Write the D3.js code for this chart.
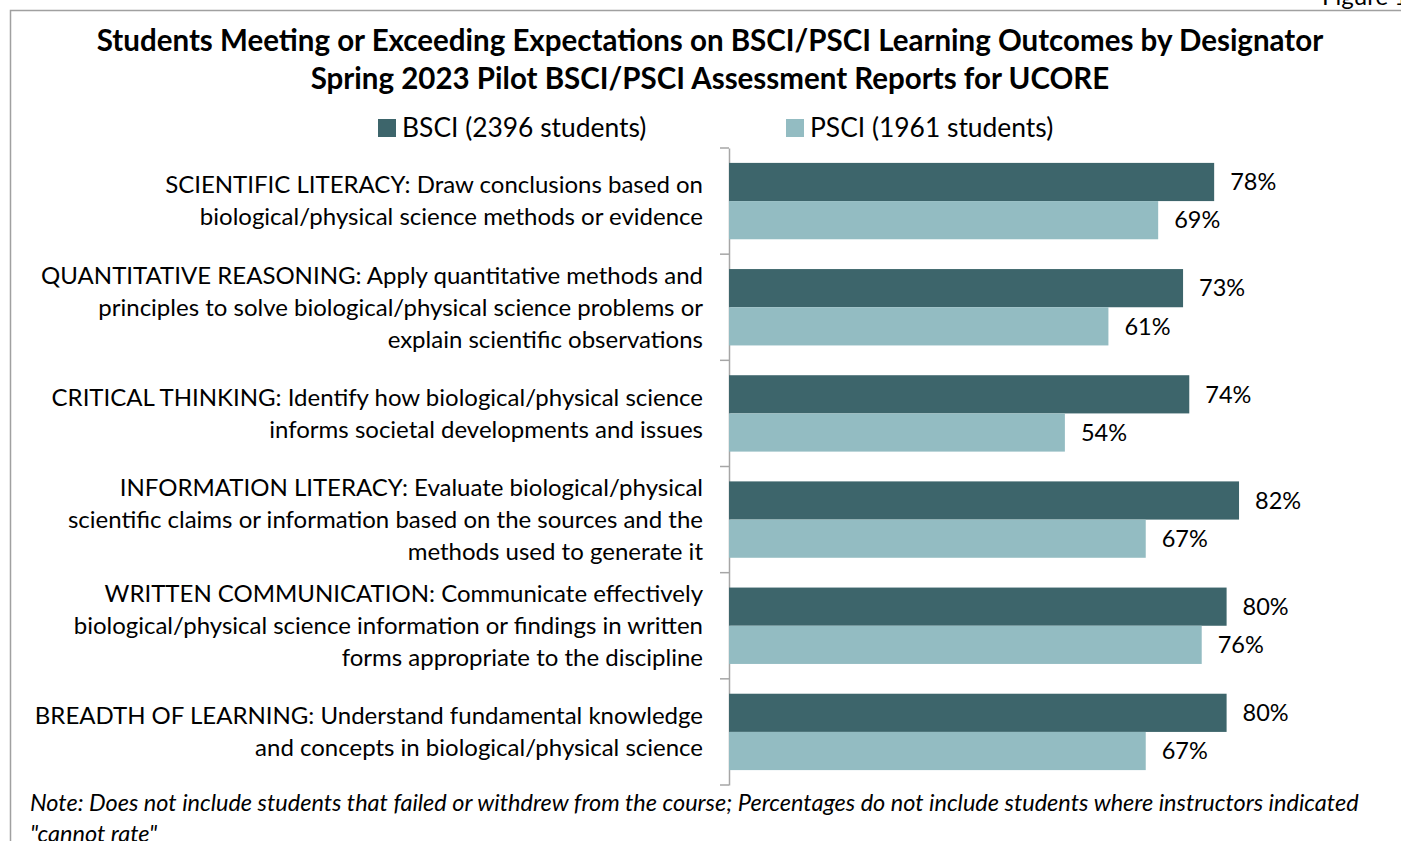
<!DOCTYPE html>
<html>
<head>
<meta charset="utf-8">
<script src="https://cdn.jsdelivr.net/npm/d3@7"></script>
<style>
  body { margin: 0; background: #fff; }
  svg { display: block; }
  text { font-family: Lato, "Open Sans", sans-serif; fill: #000; }
</style>
</head>
<body>
<div id="chart"></div>
<script>
// categories (label lines) and series values
var categories = [
  ["SCIENTIFIC LITERACY: Draw conclusions based on", "biological/physical science methods or evidence"],
  ["QUANTITATIVE REASONING: Apply quantitative methods and", "principles to solve biological/physical science problems or", "explain scientific observations"],
  ["CRITICAL THINKING: Identify how biological/physical science", "informs societal developments and issues"],
  ["INFORMATION LITERACY: Evaluate biological/physical", "scientific claims or information based on the sources and the", "methods used to generate it"],
  ["WRITTEN COMMUNICATION: Communicate effectively", "biological/physical science information or findings in written", "forms appropriate to the discipline"],
  ["BREADTH OF LEARNING: Understand fundamental knowledge", "and concepts in biological/physical science"]
];
var bsci = [0.78, 0.73, 0.74, 0.82, 0.80, 0.80];
var psci = [0.69, 0.61, 0.54, 0.67, 0.76, 0.67];
var seriesNames = ["BSCI (2396 students)", "PSCI (1961 students)"];
var colors = ["#3d656b", "#93bcc2"];

var width = 1401, height = 841;

var svg = d3.select("#chart")
  .append("svg")
  .attr("width", width)
  .attr("height", height);

// outer frame
svg.append("rect")
  .attr("x", 10.5).attr("y", 10.5)
  .attr("width", width).attr("height", height)
  .attr("fill", "none")
  .attr("stroke", "#a0a0a0")
  .attr("stroke-width", 1.5);

svg.append("text")
  .attr("x", 1322).attr("y", 5)
  .style("font-size", "24px")
  .text("Figure 1");

// titles
svg.append("text")
  .attr("x", 710).attr("y", 51)
  .attr("text-anchor", "middle")
  .style("font-size", "29.5px").style("font-weight", "bold")
  .text("Students Meeting or Exceeding Expectations on BSCI/PSCI Learning Outcomes by Designator");
svg.append("text")
  .attr("x", 710).attr("y", 89)
  .attr("text-anchor", "middle")
  .style("font-size", "29.5px").style("font-weight", "bold")
  .text("Spring 2023 Pilot BSCI/PSCI Assessment Reports for UCORE");

// legend
var legendX = [378, 786];
seriesNames.forEach(function(name, i) {
  svg.append("rect")
    .attr("x", legendX[i]).attr("y", 119)
    .attr("width", 18).attr("height", 18)
    .attr("fill", colors[i]);
  svg.append("text")
    .attr("x", legendX[i] + 24).attr("y", 128)
    .attr("dy", "0.35em")
    .style("font-size", "26.4px")
    .text(name);
});

// scales
var y = d3.scaleBand()
  .domain(d3.range(categories.length))
  .range([148, 785]);

var x = d3.scaleLinear()
  .domain([0, 1])
  .range([729, 1351]);

var inner = d3.scaleBand()
  .domain([0, 1])
  .range([0, y.bandwidth()])
  .paddingInner(0)
  .paddingOuter(0.39);

// category axis
var axis = svg.append("g")
  .attr("transform", "translate(" + x(0) + ",0)")
  .call(d3.axisLeft(y).tickValues([]).tickSizeOuter(0));
axis.select(".domain").attr("stroke", "#a6a6a6").attr("stroke-width", 1.5);

// tick marks at band boundaries
var bounds = d3.range(categories.length + 1).map(function(i) { return 148 + i * y.step(); });
svg.selectAll(".tk")
  .data(bounds)
  .enter().append("line")
  .attr("class", "tk")
  .attr("x1", x(0) - 9).attr("x2", x(0))
  .attr("y1", function(d) { return d; })
  .attr("y2", function(d) { return d; })
  .attr("stroke", "#a6a6a6").attr("stroke-width", 1.5);

// category labels
var lineH = 32;
categories.forEach(function(lines, i) {
  var cy = y(i) + y.bandwidth() / 2;
  var t = svg.append("text")
    .attr("text-anchor", "end")
    .style("font-size", "24px");
  lines.forEach(function(l, j) {
    t.append("tspan")
      .attr("x", 703)
      .attr("y", cy + (j - (lines.length - 1) / 2) * lineH)
      .attr("dy", "0.35em")
      .text(l);
  });
});

// bars
var series = [bsci, psci];
series.forEach(function(vals, s) {
  var g = svg.append("g");
  g.selectAll("rect")
    .data(vals)
    .enter().append("rect")
    .attr("x", x(0))
    .attr("y", function(d, i) { return y(i) + inner(s); })
    .attr("width", function(d) { return x(d) - x(0); })
    .attr("height", inner.bandwidth())
    .attr("fill", colors[s]);
  g.selectAll("text")
    .data(vals)
    .enter().append("text")
    .attr("x", function(d) { return x(d) + 16; })
    .attr("y", function(d, i) { return y(i) + inner(s) + inner.bandwidth() / 2; })
    .attr("dy", "0.35em")
    .style("font-size", "23.5px")
    .text(function(d) { return Math.round(d * 100) + "%"; });
});

// note
var note = svg.append("text")
  .style("font-size", "23.5px").style("font-style", "italic");
note.append("tspan").attr("x", 30).attr("y", 811)
  .text("Note: Does not include students that failed or withdrew from the course; Percentages do not include students where instructors indicated");
note.append("tspan").attr("x", 30).attr("y", 842)
  .text("\"cannot rate\"");
</script>
</body>
</html>
